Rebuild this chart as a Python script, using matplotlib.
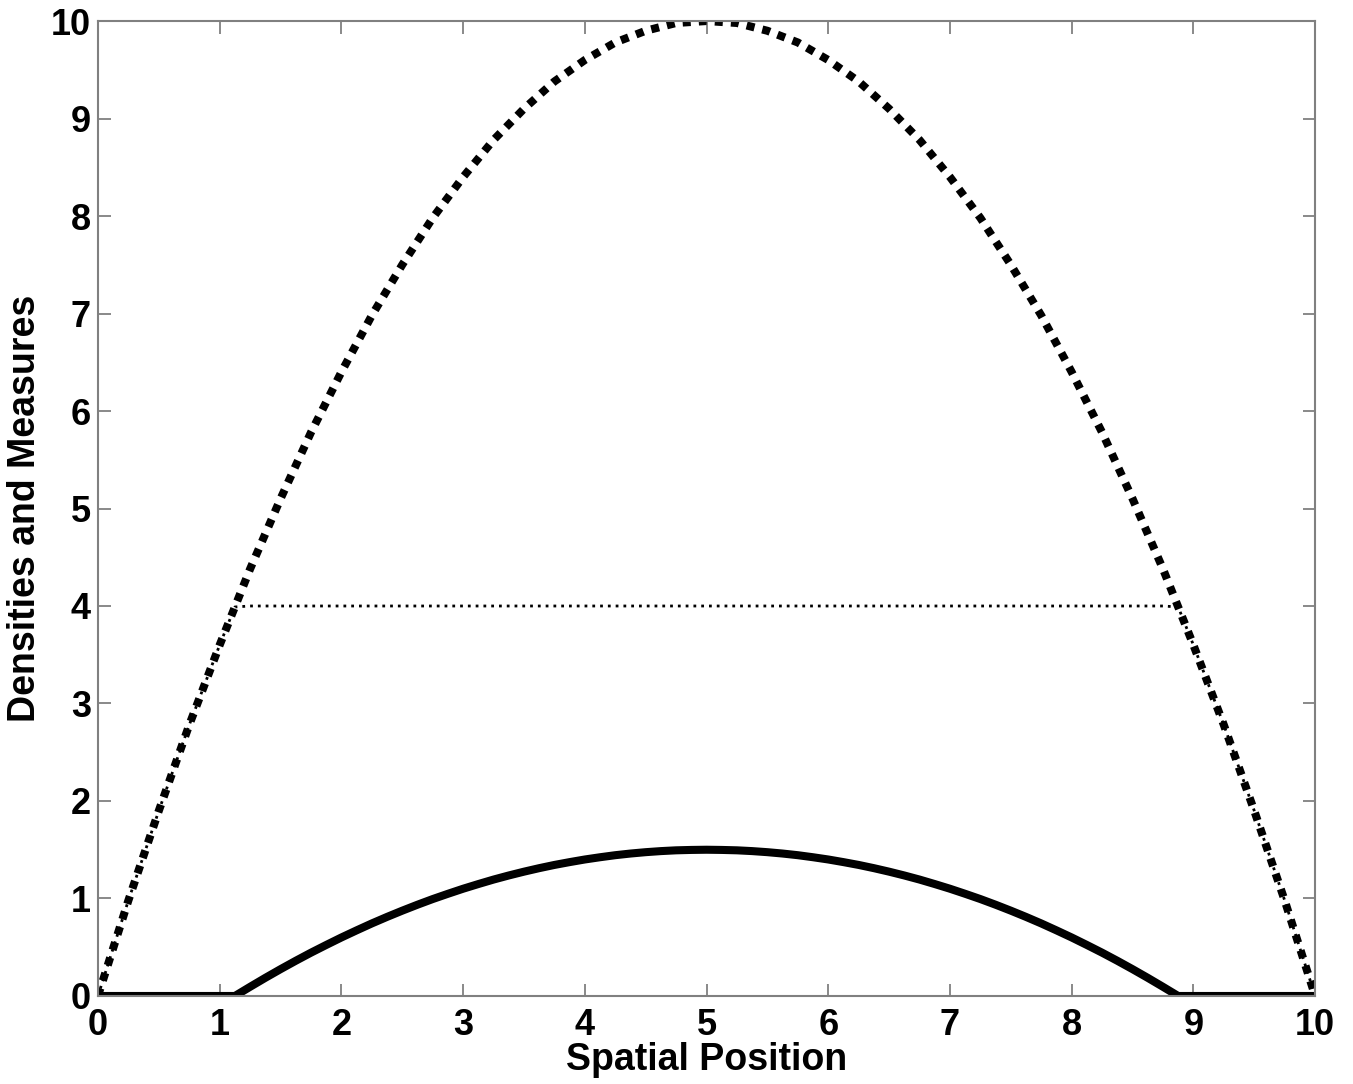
import numpy as np
import matplotlib.pyplot as plt

x = np.linspace(0, 10, 81)
density = [0, 0.49, 0.98, 1.44, 1.9, 2.34, 2.78, 3.19, 3.6, 3.99, 4.38, 4.74, 5.1, 5.44,
           5.78, 6.09, 6.4, 6.69, 6.98, 7.24, 7.5, 7.74, 7.98, 8.19, 8.4, 8.59, 8.78, 8.94,
           9.1, 9.24, 9.38, 9.49, 9.6, 9.69, 9.78, 9.84, 9.9, 9.94, 9.98, 9.99, 10,
           9.99, 9.98, 9.94, 9.9, 9.84, 9.78, 9.69, 9.6, 9.49, 9.38, 9.24, 9.1, 8.94,
           8.78, 8.59, 8.4, 8.19, 7.98, 7.74, 7.5, 7.24, 6.98, 6.69, 6.4, 6.09, 5.78,
           5.44, 5.1, 4.74, 4.38, 3.99, 3.6, 3.19, 2.78, 2.34, 1.9, 1.44, 0.98, 0.49, 0]
capped = [0, 0.49, 0.98, 1.44, 1.9, 2.34, 2.78, 3.19, 3.6, 3.99] + [4] * 61 + \
         [3.99, 3.6, 3.19, 2.78, 2.34, 1.9, 1.44, 0.98, 0.49, 0]
measure = [0, 0, 0, 0, 0, 0, 0, 0, 0, 0, 0.094, 0.186, 0.275, 0.361, 0.444, 0.523, 0.6,
           0.673, 0.744, 0.811, 0.875, 0.936, 0.994, 1.048, 1.1, 1.148, 1.194, 1.236,
           1.275, 1.311, 1.344, 1.373, 1.4, 1.423, 1.444, 1.461, 1.475, 1.486, 1.494, 1.498, 1.5,
           1.498, 1.494, 1.486, 1.475, 1.461, 1.444, 1.423, 1.4, 1.373, 1.344, 1.311, 1.275,
           1.236, 1.194, 1.148, 1.1, 1.048, 0.994, 0.936, 0.875, 0.811, 0.744, 0.673, 0.6,
           0.523, 0.444, 0.361, 0.275, 0.186, 0.094, 0, 0, 0, 0, 0, 0, 0, 0, 0, 0]

plt.rcParams['font.family'] = ['Liberation Sans', 'DejaVu Sans']
plt.rcParams['font.weight'] = 'bold'

fig = plt.figure(figsize=(13.53, 10.84), dpi=100)
ax = fig.add_axes([0.0724, 0.0812, 0.8996, 0.8994])

ax.plot(x, density, color='black', lw=5.8, linestyle=(0, (1, 1.0)), dash_capstyle='butt')
ax.plot(x, capped, color='black', lw=2, linestyle=(0, (1, 1.8)), dash_capstyle='butt')
ax.plot(x, measure, color='black', lw=5.8, solid_capstyle='butt')

ax.set_xlim(0, 10)
ax.set_ylim(0, 10)
ax.set_xticks(range(11))
ax.set_yticks(range(11))
for s in ax.spines.values():
    s.set_color('#808080')
    s.set_linewidth(1.5)
ax.tick_params(direction='in', length=9, width=1.3, color='#808080', labelsize=26,
               top=True, right=True, pad=5)
ax.tick_params(axis='x', pad=9)
for lab in ax.get_xticklabels() + ax.get_yticklabels():
    lab.set_fontweight('bold')

ax.set_xlabel('Spatial Position', fontsize=27, fontweight='bold', labelpad=-1)
ax.set_ylabel('Densities and Measures', fontsize=27, fontweight='bold', labelpad=6)

fig.savefig('out.png', dpi=100)
